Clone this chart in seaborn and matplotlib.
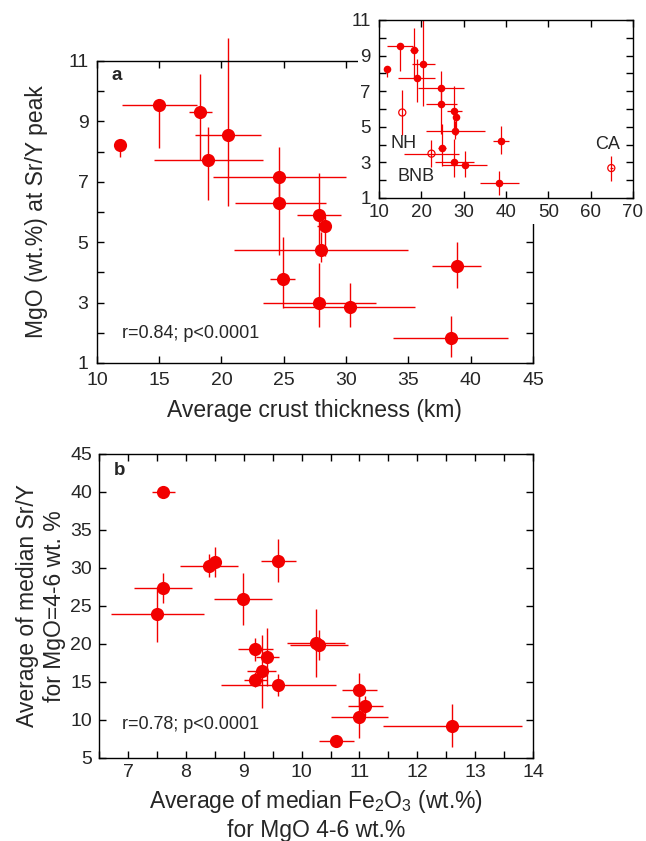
import matplotlib
matplotlib.use("Agg")
import matplotlib.pyplot as plt
from matplotlib.patches import Rectangle
from matplotlib.ticker import MultipleLocator
import seaborn as sns
import pandas as pd

# panel a: crust thickness vs MgO at Sr/Y peak (filled = arcs used in fit)
crust = [11.85, 15.0, 18.3, 20.5, 18.9, 24.6, 24.6, 27.8, 28.3, 28.0, 24.9, 27.8, 30.3, 38.9, 38.4]
crust_lo = [0.0, 3.0, 0.9, 2.6, 4.3, 5.3, 3.5, 1.7, 0.6, 7.0, 1.0, 4.5, 5.4, 2.0, 4.6]
crust_hi = [0.0, 3.0, 0.9, 2.7, 4.4, 5.4, 3.8, 1.8, 0.5, 7.0, 1.0, 4.6, 5.2, 1.9, 4.6]
mgo = [8.22, 9.54, 9.32, 8.55, 7.72, 7.15, 6.29, 5.90, 5.55, 4.74, 3.78, 3.00, 2.86, 4.22, 1.84]
mgo_lo = [0.40, 1.43, 1.60, 2.37, 1.32, 1.00, 1.70, 1.00, 1.00, 0.40, 0.97, 0.80, 0.66, 0.75, 0.65]
mgo_hi = [0.00, 0.00, 1.24, 3.20, 1.10, 1.00, 0.80, 1.40, 0.30, 0.60, 1.40, 1.30, 0.80, 0.80, 0.70]

# open symbols shown only in the inset
open_names = ["NH", "BNB", "CA"]
open_crust = [15.5, 22.4, 64.9]
open_crust_err = [0.0, 6.5, 0.4]
open_mgo = [5.80, 3.49, 2.68]
open_mgo_err = [1.25, 0.75, 0.70]
open_label_x = [15.7, 18.8, 64.1]
open_label_y = [4.05, 2.2, 4.0]

# panel b: Fe2O3 vs Sr/Y at MgO 4-6 wt.%
fe = [7.61, 7.61, 7.51, 8.40, 8.51, 9.60, 8.99, 10.25, 10.30, 9.20, 9.41, 9.31, 9.20, 9.60,
      11.00, 11.10, 11.00, 10.60, 12.60]
fe_err = [0.20, 0.50, 0.80, 0.50, 0.10, 0.30, 0.50, 0.50, 0.50, 0.30, 0.20, 0.25, 0.20, 1.00,
          0.30, 0.30, 0.50, 0.30, 1.20]
sry = [40.0, 27.4, 23.9, 30.3, 30.75, 30.96, 25.9, 20.1, 19.9, 19.3, 18.25, 16.4, 15.3, 14.6,
       14.0, 11.85, 10.45, 7.27, 9.25]
sry_err = [0.0, 2.0, 3.6, 1.5, 2.0, 2.8, 3.4, 4.5, 2.0, 1.5, 3.8, 4.8, 1.0, 1.4,
           2.2, 1.3, 2.8, 0.0, 2.8]

RED = "#f20000"

sns.set_style("ticks")
plt.rcParams["font.family"] = ["Liberation Sans", "DejaVu Sans"]
plt.rcParams["mathtext.fontset"] = "custom"
plt.rcParams["mathtext.rm"] = "Liberation Sans"
plt.rcParams["mathtext.it"] = "Liberation Sans:italic"
plt.rcParams["axes.linewidth"] = 1.0
plt.rcParams["axes.edgecolor"] = "black"

df_a = pd.DataFrame({"crust": crust, "mgo": mgo})
df_open = pd.DataFrame({"crust": open_crust, "mgo": open_mgo})
df_b = pd.DataFrame({"fe": fe, "sry": sry})

LABEL_FS = 16.5
TICK_FS = 14


def style_axis(ax, fs=TICK_FS, xpad=4, ypad=5):
    ax.tick_params(which="both", direction="in", top=True, right=True,
                   length=5, width=1.0, color="black", labelsize=fs)
    ax.tick_params(axis="x", which="both", pad=xpad)
    ax.tick_params(axis="y", which="both", pad=ypad)


fig = plt.figure(figsize=(6.46, 8.41), dpi=100)

# ---- panel a ----
ax_a = fig.add_axes([0.150, 0.5684, 0.675, 0.3592])
ax_a.errorbar(crust, mgo, xerr=[crust_lo, crust_hi], yerr=[mgo_lo, mgo_hi],
              fmt="none", ecolor=RED, elinewidth=1.0, capsize=0, clip_on=False)
sns.scatterplot(data=df_a, x="crust", y="mgo", ax=ax_a, s=90, color=RED,
                edgecolor=RED, linewidth=0, zorder=3, clip_on=False)
ax_a.set_xlim(10, 45)
ax_a.set_ylim(1, 11)
ax_a.xaxis.set_major_locator(MultipleLocator(5))
ax_a.yaxis.set_major_locator(MultipleLocator(2, offset=1))
ax_a.yaxis.set_minor_locator(MultipleLocator(1))
style_axis(ax_a, xpad=6.5, ypad=6)
ax_a.set_xlabel("Average crust thickness (km)", fontsize=LABEL_FS)
ax_a.set_ylabel("MgO (wt.%) at Sr/Y peak", fontsize=LABEL_FS)
ax_a.xaxis.set_label_coords(0.5, -0.12)
ax_a.yaxis.set_label_coords(-0.112, 0.5)
ax_a.text(0.034, 0.952, "a", transform=ax_a.transAxes, fontsize=13.5,
          fontweight="bold", ha="left", va="center")
ax_a.text(0.057, 0.099, "r=0.84; p<0.0001", transform=ax_a.transAxes,
          fontsize=13, ha="left", va="center")

# white cover behind the inset (hides the corner of panel a)
fig.patches.append(Rectangle((0.554, 0.7337), 0.446, 0.2663, transform=fig.transFigure,
                             facecolor="white", edgecolor="none", zorder=5))

# ---- inset ----
ax_in = fig.add_axes([0.5867, 0.7646, 0.393, 0.2117])
ax_in.set_zorder(6)
ax_in.errorbar(crust, mgo, xerr=[crust_lo, crust_hi], yerr=[mgo_lo, mgo_hi],
               fmt="none", ecolor=RED, elinewidth=0.9, capsize=0)
ax_in.errorbar(open_crust, open_mgo, xerr=open_crust_err, yerr=open_mgo_err,
               fmt="none", ecolor=RED, elinewidth=0.9, capsize=0)
sns.scatterplot(data=df_a, x="crust", y="mgo", ax=ax_in, s=30, color=RED,
                edgecolor=RED, linewidth=0, zorder=3)
sns.scatterplot(data=df_open, x="crust", y="mgo", ax=ax_in, s=26, facecolor="none",
                edgecolor=RED, linewidth=0.9, zorder=3)
for name, lx, ly in zip(open_names, open_label_x, open_label_y):
    ax_in.text(lx, ly, name, fontsize=13, ha="center", va="center")
ax_in.set_xlim(10, 70)
ax_in.set_ylim(1, 11)
ax_in.xaxis.set_major_locator(MultipleLocator(10))
ax_in.yaxis.set_major_locator(MultipleLocator(2, offset=1))
ax_in.yaxis.set_minor_locator(MultipleLocator(1))
style_axis(ax_in, fs=13.5, xpad=4, ypad=6)
ax_in.set_xlabel("")
ax_in.set_ylabel("")

# ---- panel b ----
ax_b = fig.add_axes([0.1533, 0.0987, 0.672, 0.3615])
ax_b.errorbar(fe, sry, xerr=fe_err, yerr=sry_err, fmt="none", ecolor=RED,
              elinewidth=1.0, capsize=0)
sns.scatterplot(data=df_b, x="fe", y="sry", ax=ax_b, s=90, color=RED,
                edgecolor=RED, linewidth=0, zorder=3)
ax_b.set_xlim(6.5, 14)
ax_b.set_ylim(5, 45)
ax_b.xaxis.set_major_locator(MultipleLocator(1))
ax_b.xaxis.set_minor_locator(MultipleLocator(0.5))
ax_b.yaxis.set_major_locator(MultipleLocator(5))
style_axis(ax_b)
ax_b.set_xlabel("Average of median Fe$_2$O$_3$ (wt.%)\nfor MgO 4-6 wt.%",
                fontsize=LABEL_FS, linespacing=1.2)
ax_b.set_ylabel("Average of median Sr/Y\nfor MgO=4-6 wt. %", fontsize=LABEL_FS,
                linespacing=1.2)
ax_b.xaxis.set_label_coords(0.5, -0.1)
ax_b.yaxis.set_label_coords(-0.076, 0.5)
ax_b.text(0.034, 0.945, "b", transform=ax_b.transAxes, fontsize=13.5,
          fontweight="bold", ha="left", va="center")
ax_b.text(0.052, 0.109, "r=0.78; p<0.0001", transform=ax_b.transAxes,
          fontsize=13, ha="left", va="center")

fig.savefig("out.png", dpi=100)
